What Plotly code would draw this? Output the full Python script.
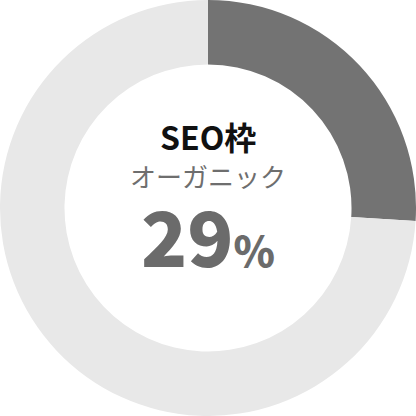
import plotly.graph_objects as go

# データ
labels = ["オーガニック", "その他"]
values = [26, 74]
colors = ["#737373", "#e8e8e8"]
title_text = "SEO枠"
sub_text = "オーガニック"
share_value = 29

fig = go.Figure()

fig.add_trace(
    go.Pie(
        labels=labels,
        values=values,
        hole=0.69,
        sort=False,
        direction="clockwise",
        rotation=0,
        marker=dict(colors=colors, line=dict(width=0)),
        textinfo="none",
        hoverinfo="skip",
        showlegend=False,
        domain=dict(x=[0, 1], y=[0, 1]),
    )
)

font_jp = "Noto Sans CJK JP"

fig.add_annotation(
    text=title_text,
    x=0.5, y=0.733, xref="paper", yref="paper",
    showarrow=False,
    font=dict(family=font_jp, size=32, color="#111111", weight="bold"),
)
fig.add_annotation(
    text=sub_text,
    x=0.5, y=0.578, xref="paper", yref="paper",
    showarrow=False,
    font=dict(family=font_jp, size=26, color="#6e6e6e"),
)
fig.add_annotation(
    text=f"{share_value}<span style='font-size:42px'>%</span>",
    x=0.5, y=0.438, xref="paper", yref="paper",
    showarrow=False,
    font=dict(family=font_jp, size=76, color="#6b6b6b", weight=900),
)

fig.update_layout(
    width=416,
    height=416,
    margin=dict(l=0, r=0, t=0, b=0),
    paper_bgcolor="white",
    plot_bgcolor="white",
)

# bodyの余白を消す
fig.write_html(
    "out.html",
    config={"displayModeBar": False, "staticPlot": True},
    post_script="document.body.style.margin='0';",
)
